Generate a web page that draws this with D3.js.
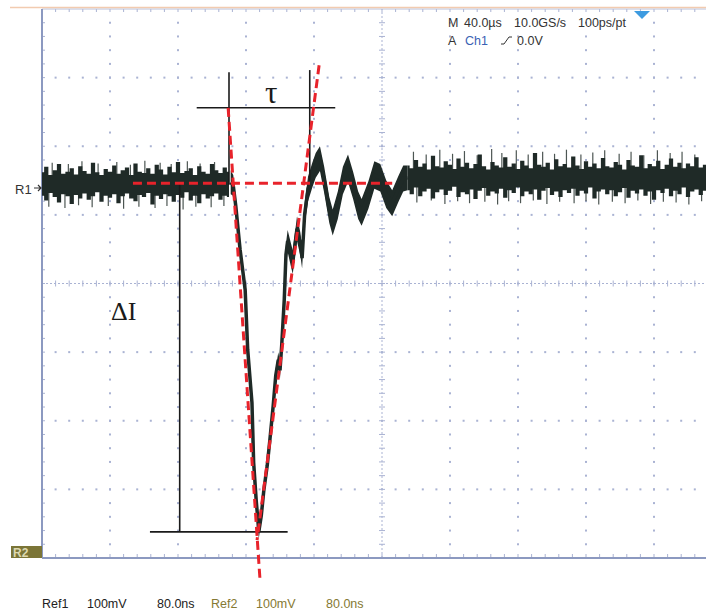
<!DOCTYPE html>
<html>
<head>
<meta charset="utf-8">
<script src="https://cdn.jsdelivr.net/npm/d3@7"></script>
<style>
body { margin: 0; background: #fff; }
text { font-family: "Liberation Sans", Arial, sans-serif; }
</style>
</head>
<body>
<div id="scope"></div>
<script>
var W = 706, H = 614;
var plot = { left: 42, top: 9, right: 722, bottom: 558 };

// scope setting: 80 ns / div, 100 mV / div, 10 x 8 divisions
var nsPerDiv = 80, mvPerDiv = 100;
var xDivs = 10, yDivs = 8;
var baseline = 146;

// flat noise before the dip (sample every 5 ns from 0 ns)
var sampleStep = 5;
var preStart = 0;
var preHi = [162,170,158,165,174,160,163,168,159,171,
             164,160,176,162,158,167,163,172,160,165,
             169,158,175,163,161,168,160,173,166,159,
             170,162,177,161,164,168,158,171,163,160,
             174,165,161,169,163];
var preLo = [128,121,132,126,118,130,127,116,129,124,
             131,122,127,133,119,128,125,130,117,127,
             131,124,120,129,126,132,115,128,123,130,
             127,119,129,125,133,121,128,117,130,124,
             127,131,122,128,126];

// the dip and the ringing after it
var eventT  = [222,225,228,233,239,242,247,249,252,254,255,258,261,265,268,272,275,278,280,282,285,287,289,293,295,300,304,306,309,313,318,322,327,332,338,342,348,354,360,366,372,376,384,391,398,405,412,419,425,430];
var eventHi = [165,158,125,60,0,-88,-165,-252,-306,-335,-352,-328,-290,-255,-218,-168,-124,-100,-115,-80,-12,58,78,58,48,98,74,52,118,156,176,190,200,170,126,108,134,170,188,163,134,123,149,178,174,150,136,156,172,172];
var eventLo = [130,128,100,40,-18,-105,-182,-270,-326,-355,-372,-348,-312,-275,-240,-188,-144,-122,-138,-100,-36,26,46,24,14,62,40,22,84,120,140,154,164,132,88,70,94,130,148,123,94,84,109,138,134,110,98,118,134,136];

// flat noise after the ringing
var postStart = 430;
var postHi = [172,168,180,170,175,166,186,171,169,178,
              173,167,182,170,176,168,174,188,171,166,
              177,172,169,184,170,175,167,179,172,168,
              190,173,170,176,166,181,171,174,169,185,
              172,167,178,170,175,168,183,171,169,177,
              173,166,180,172,170,187,168,174,171,179,
              167,173,182,170,176,168,175,171,184,169,
              173,178,167,174,171];
var postLo = [136,130,140,127,134,138,124,133,137,129,
              135,141,126,133,130,137,123,135,139,128,
              134,131,138,125,136,132,140,127,134,130,
              137,122,135,139,129,134,126,136,132,138,
              128,135,131,140,124,134,137,130,136,127,
              133,139,125,135,131,137,128,134,122,136,
              132,138,127,135,130,140,126,134,137,129,
              135,131,138,126,134];

// single-sample glitches sticking out of the noise band [ns, mV]
var spikesUp = [[12,176],[31,174],[47,178],[66,175],[88,177],[104,173],[121,179],[139,176],[152,174],[171,178],[186,175],[203,177],
                [437,192],[452,188],[468,195],[483,189],[497,193],[512,187],[529,196],[541,190],[558,194],[572,188],[589,192],[603,189],
                [617,195],[634,188],[648,191],[662,194],[679,189],[693,192],[708,187],[724,194],[739,190],[753,192],[768,188],[783,193],[796,190]];
var spikesDown = [[8,112],[27,110],[43,114],[59,111],[78,113],[96,109],[114,112],[133,110],[147,113],[166,108],[181,112],[199,111],[214,113],
                  [441,118],[458,121],[474,116],[489,120],[503,117],[521,119],[536,115],[549,120],[563,117],[578,121],[594,116],[609,119],
                  [626,117],[640,120],[655,115],[671,119],[686,117],[701,121],[716,116],[731,119],[746,118],[761,115],[776,120],[791,117]];

// red dashed fit lines [ns, mV]
var fitBase  = [[107, 146], [412, 146]];
var fitFall  = [[219, 256], [256.5, -432]];
var fitRise  = [[326, 318], [253, -374]];

// black annotation lines [ns, mV]
var tauBar   = [[182, 256], [345, 256]];
var tauLeft  = [[220, 308], [220, 144]];
var tauRight = [[315, 311], [315, 150]];
var dIBar    = [[162, 146], [162, -362]];
var dIBase   = [[127, -362], [289, -362]];

var topLine1 = [["M", 448], ["40.0\u00b5s", 464], ["10.0GS/s", 514], ["100ps/pt", 578]];
var refLabels = [["Ref1", 42, "#222"], ["100mV", 87, "#222"], ["80.0ns", 157, "#222"],
                 ["Ref2", 211, "#857933"], ["100mV", 256, "#857933"], ["80.0ns", 326, "#857933"]];

var svg = d3.select("#scope")
            .append("svg")
            .attr("width", W)
            .attr("height", H);

var x = d3.scaleLinear().domain([0, nsPerDiv * xDivs]).range([plot.left, plot.right]);
var y = d3.scaleLinear().domain([-mvPerDiv * yDivs / 2, mvPerDiv * yDivs / 2]).range([plot.bottom, plot.top]);

var gridColor = "#aab3d3";
var grid = svg.append("g");

// peach line on top
svg.append("line")
   .attr("x1", 10).attr("x2", W).attr("y1", 7.5).attr("y2", 7.5)
   .attr("stroke", "#f2cbb0").attr("stroke-width", 1.5);

var minorNs = nsPerDiv / 5, minorMv = mvPerDiv / 5;
var tMax = nsPerDiv * xDivs, vMax = mvPerDiv * yDivs / 2;

// dots along major grid lines
for (var k = 1; k < xDivs; k++) {
  if (k == xDivs / 2) continue;
  for (var v = -vMax + minorMv; v < vMax; v += minorMv) {
    grid.append("rect").attr("x", x(k * nsPerDiv) - 1).attr("y", y(v) - 1)
        .attr("width", 2).attr("height", 2).attr("fill", gridColor);
  }
}
for (var m = -yDivs / 2 + 1; m < yDivs / 2; m++) {
  if (m == 0) continue;
  for (var t = minorNs; t < tMax; t += minorNs) {
    grid.append("rect").attr("x", x(t) - 1).attr("y", y(m * mvPerDiv) - 1)
        .attr("width", 2).attr("height", 2).attr("fill", gridColor);
  }
}

// center cross with minor ticks
grid.append("line")
    .attr("x1", x(0)).attr("x2", x(tMax)).attr("y1", y(0)).attr("y2", y(0))
    .attr("stroke", gridColor).attr("stroke-dasharray", "2,2");
grid.append("line")
    .attr("x1", x(tMax / 2)).attr("x2", x(tMax / 2)).attr("y1", y(-vMax)).attr("y2", y(vMax))
    .attr("stroke", gridColor).attr("stroke-dasharray", "2,2");
for (var t = minorNs; t < tMax; t += minorNs) {
  grid.append("line").attr("x1", x(t)).attr("x2", x(t)).attr("y1", y(0) - 3).attr("y2", y(0) + 3)
      .attr("stroke", gridColor);
  grid.append("line").attr("x1", x(t)).attr("x2", x(t)).attr("y1", y(-vMax) - 4).attr("y2", y(-vMax))
      .attr("stroke", gridColor);
  grid.append("line").attr("x1", x(t)).attr("x2", x(t)).attr("y1", y(vMax)).attr("y2", y(vMax) + 3)
      .attr("stroke", gridColor);
}
for (var v = -vMax + minorMv; v < vMax; v += minorMv) {
  grid.append("line").attr("x1", x(tMax / 2) - 3).attr("x2", x(tMax / 2) + 3).attr("y1", y(v)).attr("y2", y(v))
      .attr("stroke", gridColor);
  grid.append("line").attr("x1", x(0)).attr("x2", x(0) + 3).attr("y1", y(v)).attr("y2", y(v))
      .attr("stroke", gridColor);
}

// border
grid.append("line").attr("x1", x(0)).attr("x2", W).attr("y1", y(vMax)).attr("y2", y(vMax))
    .attr("stroke", "#b7c0dc").attr("stroke-width", 1);
grid.append("line").attr("x1", x(0)).attr("x2", x(0)).attr("y1", y(vMax)).attr("y2", y(-vMax))
    .attr("stroke", "#8c99c0").attr("stroke-width", 2);
grid.append("line").attr("x1", x(0)).attr("x2", W).attr("y1", y(-vMax)).attr("y2", y(-vMax))
    .attr("stroke", "#8c99c0").attr("stroke-width", 2);

// trace
var pre = preHi.map(function (h, i) { return { t: preStart + i * sampleStep, hi: h, lo: preLo[i] }; });
var evt = eventT.map(function (t, i) { return { t: t, hi: eventHi[i], lo: eventLo[i] }; });
var post = postHi.map(function (h, i) { return { t: postStart + i * sampleStep, hi: h, lo: postLo[i] }; });

var band = d3.area()
    .x(function (d) { return x(d.t); })
    .y0(function (d) { return y(d.lo); })
    .y1(function (d) { return y(d.hi); });

svg.append("clipPath").attr("id", "clip")
   .append("rect").attr("x", plot.left).attr("y", plot.top)
   .attr("width", plot.right - plot.left).attr("height", plot.bottom - plot.top);

var trace = svg.append("g").attr("clip-path", "url(#clip)");
var traceColor = "#1f2a27";

// thin glitches first, so the dense band sits on top
spikesUp.concat(spikesDown).forEach(function (s) {
  trace.append("line")
       .attr("x1", x(s[0])).attr("x2", x(s[0]))
       .attr("y1", y(baseline)).attr("y2", y(s[1]))
       .attr("stroke", "#4d5653").attr("stroke-width", 1.2);
});

trace.append("path").datum(pre).attr("d", band.curve(d3.curveStep)).attr("fill", traceColor);
trace.append("path").datum(post).attr("d", band.curve(d3.curveStep)).attr("fill", traceColor);
trace.append("path").datum(evt).attr("d", band.curve(d3.curveLinear)).attr("fill", traceColor);
trace.append("path").datum(evt)
     .attr("d", d3.line()
        .x(function (d) { return x(d.t); })
        .y(function (d) { return y((d.hi + d.lo) / 2); }))
     .attr("fill", "none").attr("stroke", traceColor).attr("stroke-width", 3.5);

// black annotation lines
var line = d3.line()
    .x(function (d) { return x(d[0]); })
    .y(function (d) { return y(d[1]); });

[tauBar, tauLeft, tauRight, dIBar, dIBase].forEach(function (p) {
  svg.append("path").attr("d", line(p))
     .attr("fill", "none").attr("stroke", "#1a1a1a").attr("stroke-width", 1.6);
});

// red dashed fit lines
[fitBase, fitFall, fitRise].forEach(function (p) {
  svg.append("path").attr("d", line(p))
     .attr("fill", "none").attr("stroke", "#e8232b").attr("stroke-width", 3)
     .attr("stroke-dasharray", "9,5");
});

// annotation labels
svg.append("text").attr("x", 265).attr("y", 103)
   .style("font-family", "'Liberation Serif', 'Times New Roman', serif")
   .style("font-size", "31px").attr("fill", "#1a1a1a").text("\u03c4");
svg.append("text").attr("x", 111).attr("y", 320)
   .style("font-family", "'Liberation Serif', 'Times New Roman', serif")
   .style("font-size", "26px").attr("fill", "#1a1a1a").text("\u0394I");

// scope readouts
topLine1.forEach(function (d) {
  svg.append("text").attr("x", d[1]).attr("y", 27)
     .style("font-size", "12.5px").attr("fill", "#333").text(d[0]);
});
svg.append("text").attr("x", 448).attr("y", 45).style("font-size", "12.5px").attr("fill", "#333").text("A");
svg.append("text").attr("x", 465).attr("y", 45).style("font-size", "12.5px").attr("fill", "#3a62b4").text("Ch1");
svg.append("path").attr("d", "M501,44 L504,44 L509,37 L512,37")
   .attr("fill", "none").attr("stroke", "#333").attr("stroke-width", 1);
svg.append("text").attr("x", 517).attr("y", 45).style("font-size", "12.5px").attr("fill", "#333").text("0.0V");

// trigger marker
svg.append("path").attr("d", "M634,11 L650,11 L642,19 Z").attr("fill", "#3d9be0");

// R1 marker
svg.append("text").attr("x", 15).attr("y", 194).style("font-size", "13px").attr("fill", "#333").text("R1");
svg.append("path").attr("d", "M34,188 L41,188 M38,185 L41,188 L38,191")
   .attr("fill", "none").attr("stroke", "#333").attr("stroke-width", 1.2);

// R2 marker
svg.append("rect").attr("x", 11).attr("y", 546).attr("width", 31).attr("height", 12).attr("fill", "#7b7537");
svg.append("text").attr("x", 13).attr("y", 557).style("font-size", "12px").style("font-weight", "bold")
   .attr("fill", "#ddd8b0").text("R2");

// bottom reference readouts
refLabels.forEach(function (d) {
  svg.append("text").attr("x", d[1]).attr("y", 608)
     .style("font-size", "12.5px").attr("fill", d[2]).text(d[0]);
});
</script>
</body>
</html>
